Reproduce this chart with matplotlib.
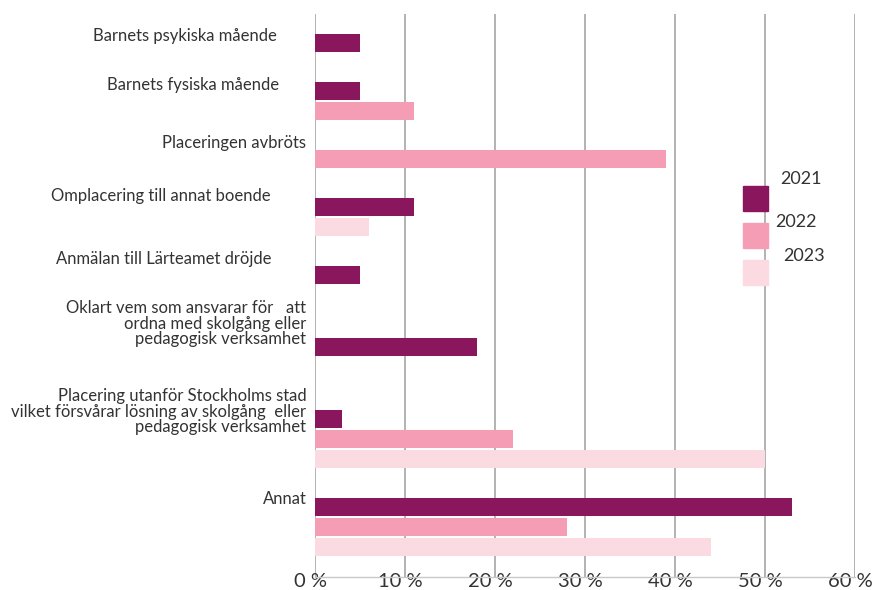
import matplotlib.pyplot as plt
import matplotlib.transforms as mtransforms
from matplotlib.patches import Rectangle

categories = [
    "Barnets psykiska mående",
    "Barnets fysiska mående",
    "Placeringen avbröts",
    "Omplacering till annat boende",
    "Anmälan till Lärteamet dröjde",
    "Oklart vem som ansvarar för   att\nordna med skolgång eller\npedagogisk verksamhet",
    "Placering utanför Stockholms stad\nvilket försvårar lösning av skolgång  eller\npedagogisk verksamhet",
    "Annat",
]
years = ["2021", "2022", "2023"]
# None = no bar for that year
v2021 = [5, 5, None, 11, 5, 18, 3, 53]
v2022 = [None, 11, 39, None, None, None, 22, 28]
v2023 = [None, None, None, 6, None, None, 50, 44]
xticks = [0, 10, 20, 30, 40, 50, 60]
xtick_labels = ["0 %", "10 %", "20 %", "30 %", "40 %", "50 %", "60 %"]

colors = ["#8a175e", "#f49db5", "#fcdae2"]
text_col = "#333333"
grid_col = "#a6a6a6"
font = "Lato"

# label placement (pixels relative to axis / first bar)
label_dx = [-38, -36, -9, -45, -44, -9, -9, -8]
label_dy = [-7, -6, -16, -11, -16, -23, -7, -8]

fig = plt.figure(figsize=(8.73, 5.90), dpi=100)
ax = fig.add_axes([315.3 / 873, 1 - 577 / 590, (855 - 315.3) / 873, (577 - 14.3) / 590])

series = [v2021, v2022, v2023]
pos = 0.0
first_pos = []
for i, cat in enumerate(categories):
    nlines = cat.count("\n") + 1
    if i > 0:
        pos += 2.4 + 0.6 * (nlines - 1)
    first_pos.append(pos)
    k = 0
    for s, c in zip(series, colors):
        if s[i] is not None:
            ax.barh(pos + k, s[i], height=0.9, color=c, zorder=3)
            k += 1
    pos += k - 1

ax.set_ylim(pos + 1.52, -1.42)
ax.set_xlim(0, 60)
ax.set_yticks([])
ax.set_xticks(xticks)
ax.set_xticklabels(xtick_labels, fontsize=14.5, color=text_col, family=font)
ax.tick_params(axis="x", length=0, pad=-3)
off = mtransforms.ScaledTranslation(-5 / 100, 0, fig.dpi_scale_trans)
for lab in ax.get_xticklabels():
    lab.set_transform(lab.get_transform() + off)

ax.grid(axis="x", color=grid_col, linewidth=1.2, zorder=0)
for side in ["top", "right", "left"]:
    ax.spines[side].set_visible(False)
ax.spines["bottom"].set_color("#c8c8c8")
ax.spines["bottom"].set_linewidth(1.0)

for i, cat in enumerate(categories):
    ax.annotate(cat, xy=(0, first_pos[i]), xycoords=ax.get_yaxis_transform(),
                xytext=(label_dx[i] * 0.72, -label_dy[i] * 0.72), textcoords="offset points",
                ha="right", va="center", multialignment="right", fontsize=12,
                color=text_col, family=font, linespacing=0.98)

# legend drawn by hand
box_top = [186, 223, 260]
text_xy = [(780, 179), (775, 222), (783, 256)]
for y, c, (tx, ty), yr in zip(box_top, colors, text_xy, years):
    fig.patches.append(Rectangle((743 / 873, 1 - (y + 25) / 590), 25 / 873, 25 / 590,
                                 transform=fig.transFigure, color=c))
    fig.text(tx / 873, 1 - ty / 590, yr, fontsize=13, color=text_col, family=font,
             ha="left", va="center")

fig.savefig("out.png", dpi=100)
